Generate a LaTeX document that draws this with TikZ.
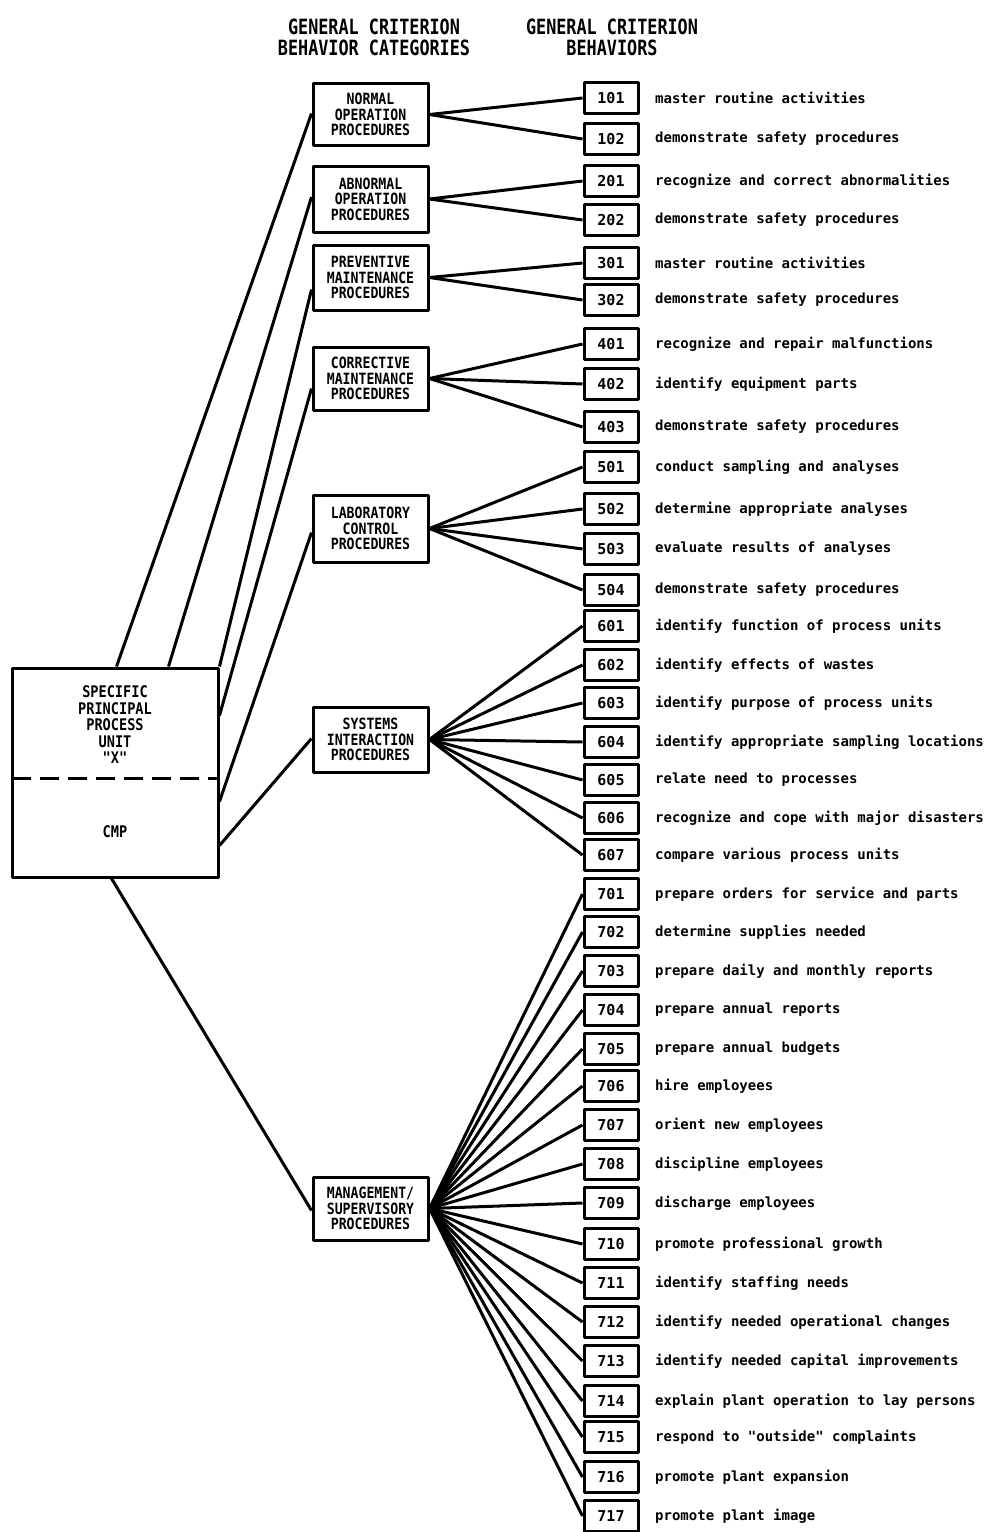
\documentclass[tikz,border=0pt]{standalone}
\usepackage{fontspec}
\newfontfamily\lblfont{DejaVu Sans Mono}
\newfontfamily\hdrfont[FakeStretch=0.8]{DejaVu Sans Mono}
\newfontfamily\catfont[FakeStretch=0.85]{DejaVu Sans Mono}
\begin{document}
\begin{tikzpicture}[x=1pt,y=-1pt,line join=round,
  box/.style={draw,line width=3pt,inner sep=0pt,align=center},
  cat/.style={box,minimum width=115pt,minimum height=64pt,font=\catfont\bfseries\fontsize{15.5}{15.5}\selectfont},
  num/.style={box,minimum width=54pt,minimum height=31pt,font=\lblfont\bfseries\fontsize{15}{16}\selectfont},
  lbl/.style={anchor=west,inner sep=0pt,font=\lblfont\bfseries\fontsize{14}{16}\selectfont},
  hdr/.style={align=center,inner sep=0pt,font=\hdrfont\bfseries\fontsize{21}{21}\selectfont},
  conn/.style={line width=3pt}]
\useasboundingbox (0,0) rectangle (989,1532);
\fill[white] (0,0) rectangle (989,1532);

% headers
\node[hdr] (h1) at (374,37) {GENERAL CRITERION\\BEHAVIOR CATEGORIES};
\node[hdr] (h2) at (612,37) {GENERAL CRITERION\\BEHAVIORS};

% main box
\node[box,minimum width=206pt,minimum height=209pt] (main) at (115,772.5) {};
\node[align=center,inner sep=0pt,font=\catfont\bfseries\fontsize{16}{16.5}\selectfont] (mtxt) at (115,725) {SPECIFIC\\PRINCIPAL\\PROCESS\\UNIT\\"X"};
\node[inner sep=0pt,font=\catfont\bfseries\fontsize{16}{16}\selectfont] (cmp) at (115,832) {CMP};
\draw[line width=3pt,dash pattern=on 19pt off 9pt] (12,778) -- (218,778);

% category boxes
\node[cat,minimum height=62pt] (nop) at (370.5,114.5) {NORMAL\\OPERATION\\PROCEDURES};
\node[cat,minimum height=66pt] (aop) at (370.5,199) {ABNORMAL\\OPERATION\\PROCEDURES};
\node[cat,minimum height=65pt] (pmp) at (370.5,277.5) {PREVENTIVE\\MAINTENANCE\\PROCEDURES};
\node[cat,minimum height=63pt] (cmpr) at (370.5,378.5) {CORRECTIVE\\MAINTENANCE\\PROCEDURES};
\node[cat,minimum height=67pt] (lcp) at (370.5,528.5) {LABORATORY\\CONTROL\\PROCEDURES};
\node[cat,minimum height=65pt] (sip) at (370.5,739.5) {SYSTEMS\\INTERACTION\\PROCEDURES};
\node[cat,minimum height=63pt] (msp) at (370.5,1208.5) {MANAGEMENT/\\SUPERVISORY\\PROCEDURES};

% main to categories
\draw[conn] ([xshift=106pt]main.north west) -- ([yshift=1pt]nop.west);
\draw[conn] ([xshift=158pt]main.north west) -- ([yshift=2pt]aop.west);
\draw[conn] (main.north east) -- ([yshift=-12pt]pmp.west);
\draw[conn] ([yshift=-49pt]main.north east) -- ([yshift=-10pt]cmpr.west);
\draw[conn] ([yshift=-135pt]main.north east) -- ([yshift=-4pt]lcp.west);
\draw[conn] ([yshift=-179pt]main.north east) -- ([yshift=1pt]sip.west);
\draw[conn] ([xshift=101pt]main.south west) -- ([yshift=-2pt]msp.west);

% behaviours
\foreach \n/\y/\t/\c in {
 101/98/master routine activities/nop,
 102/139/demonstrate safety procedures/nop,
 201/181/recognize and correct abnormalities/aop,
 202/220/demonstrate safety procedures/aop,
 301/263/master routine activities/pmp,
 302/300/demonstrate safety procedures/pmp,
 401/344/recognize and repair malfunctions/cmpr,
 402/384/identify equipment parts/cmpr,
 403/427/demonstrate safety procedures/cmpr,
 501/467/conduct sampling and analyses/lcp,
 502/509/determine appropriate analyses/lcp,
 503/549/evaluate results of analyses/lcp,
 504/590/demonstrate safety procedures/lcp,
 601/626/identify function of process units/sip,
 602/665/identify effects of wastes/sip,
 603/703/identify purpose of process units/sip,
 604/742/identify appropriate sampling locations/sip,
 605/780/relate need to processes/sip,
 606/818/recognize and cope with major disasters/sip,
 607/855/compare various process units/sip,
 701/894/prepare orders for service and parts/msp,
 702/932/determine supplies needed/msp,
 703/971/prepare daily and monthly reports/msp,
 704/1010/prepare annual reports/msp,
 705/1049/prepare annual budgets/msp,
 706/1086/hire employees/msp,
 707/1125/orient new employees/msp,
 708/1164/discipline employees/msp,
 709/1203/discharge employees/msp,
 710/1244/promote professional growth/msp,
 711/1283/identify staffing needs/msp,
 712/1322/identify needed operational changes/msp,
 713/1361/identify needed capital improvements/msp,
 714/1401/explain plant operation to lay persons/msp,
 715/1437/respond to "outside" complaints/msp,
 716/1477/promote plant expansion/msp,
 717/1516/promote plant image/msp}{
  \node[num] (n\n) at (611,\y) {\n};
  \node[lbl] (t\n) at (655,\y) {\t};
  \draw[conn] (\c.east) -- (n\n.west);
}
\end{tikzpicture}
\end{document}
